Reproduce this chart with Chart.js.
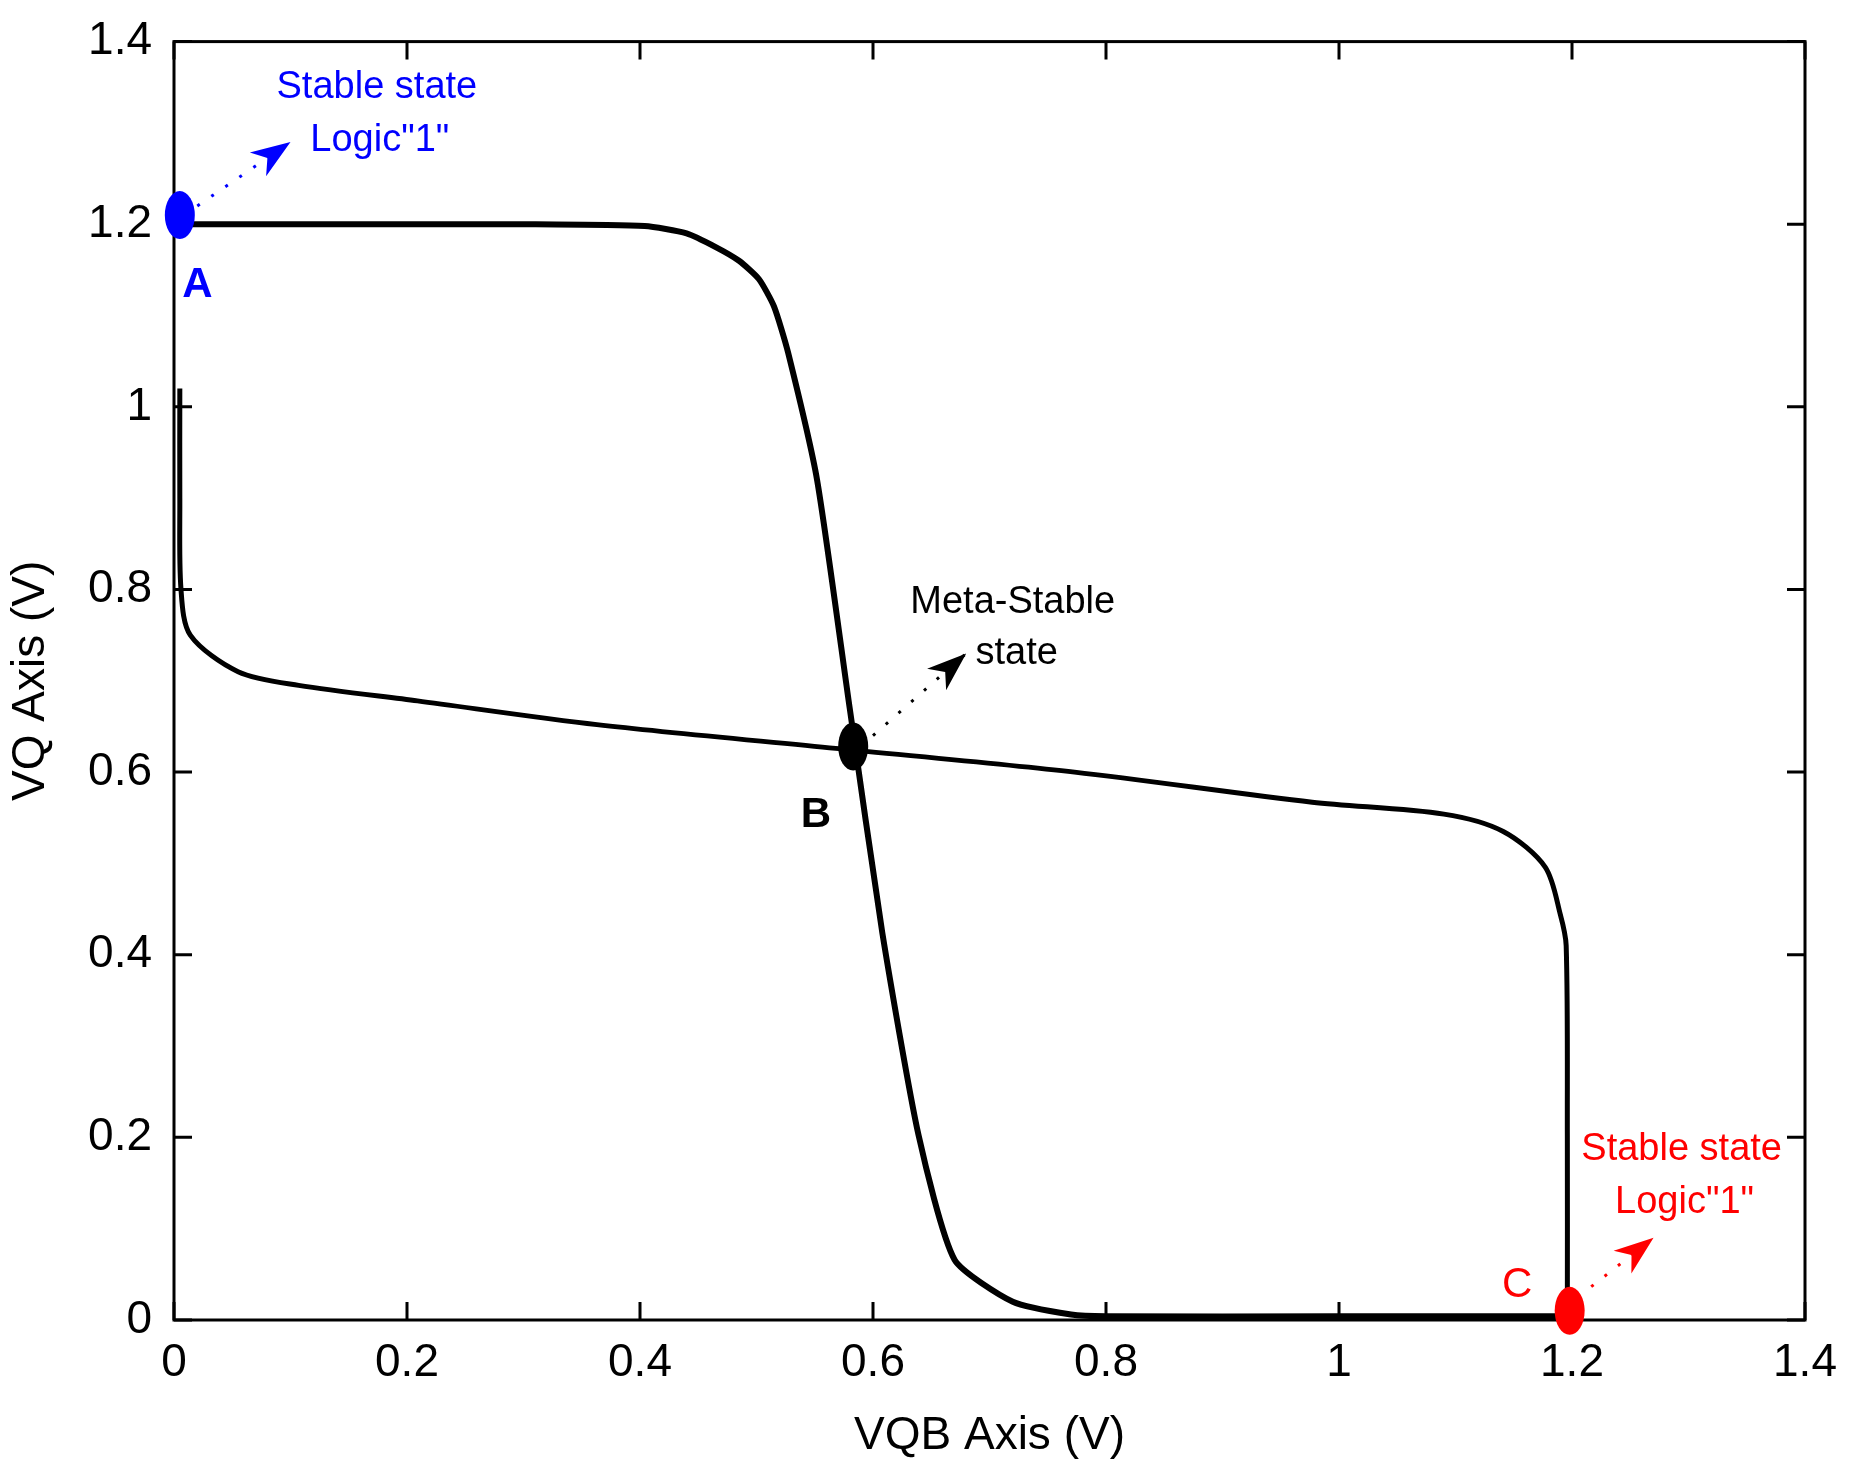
<!DOCTYPE html>
<html><head><meta charset="utf-8">
<script src="https://cdn.jsdelivr.net/npm/chart.js@4"></script>
<style>html,body{margin:0;background:#fff}#wrap{width:1871px;height:1468px}</style>
</head><body><div id="wrap"><canvas id="c"></canvas></div>
<script>
// curve through A and down the middle (VQ vs VQB)
const curve1_x = [0.005, 0.1, 0.2, 0.3, 0.404, 0.44, 0.465, 0.485, 0.502, 0.515, 0.527, 0.552, 0.58, 0.608, 0.639, 0.67, 0.72, 0.77, 0.8, 1.0, 1.2];
const curve1_y = [1.2, 1.2, 1.2, 1.2, 1.198, 1.19, 1.175, 1.16, 1.14, 1.11, 1.06, 0.92, 0.67, 0.424, 0.203, 0.066, 0.02, 0.006, 0.004, 0.004, 0.004];
// curve across the middle down to C
const curve2_x = [0.005, 0.005, 0.006, 0.014, 0.055, 0.107, 0.209, 0.363, 0.568, 0.773, 0.977, 1.09, 1.141, 1.177, 1.19, 1.195, 1.196, 1.196];
const curve2_y = [1.02, 0.9, 0.8, 0.75, 0.71, 0.695, 0.678, 0.652, 0.626, 0.6, 0.567, 0.554, 0.535, 0.496, 0.444, 0.41, 0.2, 0.005];
const states = [
  {x: 0.005, y: 1.21, color: '#0000ff', label: 'A'},
  {x: 0.583, y: 0.628, color: '#000000', label: 'B'},
  {x: 1.198, y: 0.01, color: '#ff0000', label: 'C'}
];
const tickVals = [0, 0.2, 0.4, 0.6, 0.8, 1, 1.2, 1.4];

const pts = (xs, ys) => xs.map((x, i) => ({x: x, y: ys[i]}));

const annot = {
  id: 'annot',
  afterDraw(chart) {
    const ctx = chart.ctx, xs = chart.scales.x, ys = chart.scales.y, a = chart.chartArea;
    const px = v => xs.getPixelForValue(v), py = v => ys.getPixelForValue(v);
    ctx.save();
    // frame + inward ticks on all sides
    ctx.strokeStyle = '#000'; ctx.lineWidth = 3;
    ctx.strokeRect(a.left, a.top, a.right - a.left, a.bottom - a.top);
    tickVals.forEach(v => {
      ctx.beginPath();
      ctx.moveTo(px(v), a.bottom); ctx.lineTo(px(v), a.bottom - 18);
      ctx.moveTo(px(v), a.top); ctx.lineTo(px(v), a.top + 18);
      ctx.moveTo(a.left, py(v)); ctx.lineTo(a.left + 18, py(v));
      ctx.moveTo(a.right, py(v)); ctx.lineTo(a.right - 18, py(v));
      ctx.stroke();
    });
    // state markers
    states.forEach(s => {
      ctx.fillStyle = s.color;
      ctx.beginPath();
      ctx.ellipse(px(s.x), py(s.y), 15, 24, 0, 0, Math.PI * 2);
      ctx.fill();
    });
    // dotted arrows + text
    function arrow(x0, y0, x1, y1, color) {
      ctx.strokeStyle = color; ctx.fillStyle = color; ctx.lineWidth = 3;
      ctx.setLineDash([3, 14]);
      ctx.beginPath(); ctx.moveTo(px(x0), py(y0)); ctx.lineTo(px(x1), py(y1)); ctx.stroke();
      ctx.setLineDash([]);
      const ang = Math.atan2(py(y1) - py(y0), px(x1) - px(x0));
      const hx = px(x1), hy = py(y1);
      ctx.beginPath();
      ctx.moveTo(hx, hy);
      ctx.lineTo(hx - 42 * Math.cos(ang - 0.35), hy - 42 * Math.sin(ang - 0.35));
      ctx.lineTo(hx - 28 * Math.cos(ang), hy - 28 * Math.sin(ang));
      ctx.lineTo(hx - 42 * Math.cos(ang + 0.35), hy - 42 * Math.sin(ang + 0.35));
      ctx.closePath(); ctx.fill();
    }
    arrow(0.02, 1.22, 0.1, 1.29, '#0000ff');
    arrow(0.6, 0.64, 0.68, 0.73, '#000000');
    arrow(1.205, 0.025, 1.27, 0.09, '#ff0000');
    ctx.font = '38px "Liberation Sans", Arial, sans-serif';
    ctx.textAlign = 'left'; ctx.textBaseline = 'alphabetic';
    ctx.fillStyle = '#0000ff';
    ctx.fillText('Stable state', px(0.088), py(1.338));
    ctx.fillText('Logic"1"', px(0.117), py(1.28));
    ctx.fillStyle = '#000';
    ctx.fillText('Meta-Stable', px(0.632), py(0.774));
    ctx.fillText('state', px(0.688), py(0.718));
    ctx.fillStyle = '#ff0000';
    ctx.fillText('Stable state', px(1.208), py(0.175));
    ctx.fillText('Logic"1"', px(1.237), py(0.117));
    ctx.font = 'bold 42px "Liberation Sans", Arial, sans-serif';
    ctx.fillStyle = '#0000ff'; ctx.fillText('A', px(0.007), py(1.12));
    ctx.fillStyle = '#000'; ctx.fillText('B', px(0.538), py(0.54));
    ctx.font = '42px "Liberation Sans", Arial, sans-serif';
    ctx.fillStyle = '#ff0000'; ctx.fillText('C', px(1.14), py(0.025));
    ctx.restore();
  }
};

const tickFont = {family: '"Liberation Sans", Arial, sans-serif', size: 46};
new Chart(document.getElementById('c'), {
  type: 'scatter',
  data: {
    datasets: [
      {data: pts(curve1_x, curve1_y), showLine: true, borderColor: '#000', borderWidth: 6, pointRadius: 0, tension: 0.2},
      {data: pts(curve2_x, curve2_y), showLine: true, borderColor: '#000', borderWidth: 5, pointRadius: 0, tension: 0.3}
    ]
  },
  options: {
    responsive: true, maintainAspectRatio: false, animation: false,
    layout: {padding: {top: 36, right: 66, left: 0, bottom: 0}},
    plugins: {legend: {display: false}, tooltip: {enabled: false}},
    scales: {
      x: {
        type: 'linear', min: 0, max: 1.4,
        afterBuildTicks: s => { s.ticks = tickVals.map(v => ({value: v})); },
        afterFit: s => { s.height = 148; },
        grid: {display: false}, border: {display: false},
        ticks: {color: '#000', font: tickFont, padding: 8, maxRotation: 0, callback: v => String(Math.round(v * 10) / 10)},
        title: {display: true, text: 'VQB Axis (V)', color: '#000', font: tickFont, padding: {top: 0}}
      },
      y: {
        min: 0, max: 1.4,
        afterBuildTicks: s => { s.ticks = tickVals.map(v => ({value: v})); },
        afterFit: s => { s.width = 174; },
        grid: {display: false}, border: {display: false},
        ticks: {color: '#000', font: tickFont, padding: 14, callback: v => String(Math.round(v * 10) / 10)},
        title: {display: true, text: 'VQ Axis (V)', color: '#000', font: tickFont, padding: {bottom: 4}}
      }
    }
  },
  plugins: [annot]
});
</script></body></html>
